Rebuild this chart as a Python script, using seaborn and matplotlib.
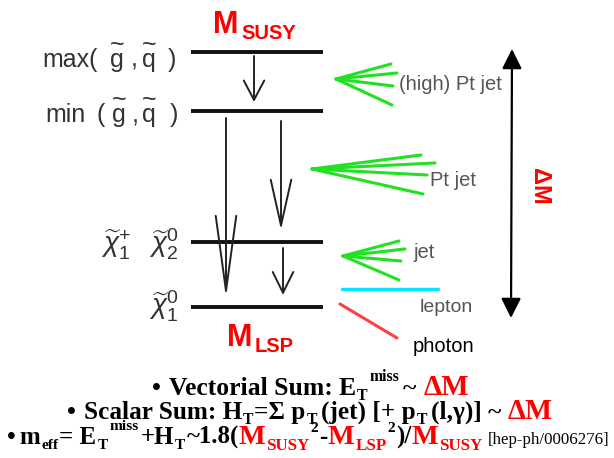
import matplotlib
matplotlib.use('Agg')
import matplotlib.pyplot as plt
import seaborn as sns

sns.set_theme(style='white')
plt.rcParams['mathtext.fontset'] = 'custom'
plt.rcParams['mathtext.rm'] = 'Liberation Sans'
plt.rcParams['mathtext.it'] = 'Liberation Sans:italic'

# mass levels (name, y in px)
level_names = ['max', 'min', 'chi2', 'chi1']
level_y = [52, 111, 242, 307]

# squark/gluino labels, split into glyph groups (tilde goes on g and q)
max_parts = ['max(', 'g', ',', 'q', ')']
max_x = [42, 110, 131, 142, 168]
min_parts = ['min', '(', 'g', ',', 'q', ')']
min_x = [45, 96, 112, 132, 142, 170]
chi_labels = [r'$\widetilde{\chi}^{+}_{1}$', r'$\widetilde{\chi}^{0}_{2}$',
              r'$\widetilde{\chi}^{0}_{1}$']

# decay products shown on the right
jet_labels = ['(high) Pt jet', 'Pt jet', 'jet']
jet_apex = [(336, 79), (312, 169), (343, 256)]
jet_tips = [[(391, 64), (397, 73), (393, 86), (392, 105)],
            [(421, 155), (435, 163), (427, 175), (423, 194)],
            [(399, 241), (405, 249), (401, 261), (399, 280)]]
jet_text_pos = [(399, 84), (430, 181), (413, 252)]

RED = '#FF0000'
GREEN = '#22E022'
GREY = '#555555'
DARK = '#333333'

fig = plt.figure(figsize=(6.14, 4.58), dpi=100)
ax = fig.add_axes([0, 0, 1, 1])
ax.set_xlim(0, 614)
ax.set_ylim(458, 0)
ax.axis('off')
r = fig.canvas.get_renderer()


def draw_run(pieces, x, y, x_end=None):
    # pieces: (text, size, color, weight, dy, family, gap)
    texts = []
    for s, size, color, weight, dy, family, gap in pieces:
        t = ax.text(0, y - dy, s, fontsize=size, color=color, fontweight=weight,
                    family=family, ha='left', va='baseline')
        texts.append((t, size, gap))

    def layout(f):
        cur = 0
        offs = []
        for t, size, gap in texts:
            t.set_fontsize(size * f)
            offs.append(cur)
            cur += t.get_window_extent(r).width + gap * f
        return cur, offs

    total, offs = layout(1.0)
    if x_end is not None:
        total, offs = layout((x_end - x) / total)
        total, offs = layout((x_end - x) / total * (texts[0][0].get_fontsize() / texts[0][1]))
    for (t, _, _), off in zip(texts, offs):
        t.set_x(x + off)


# levels
for y in level_y:
    ax.plot([191, 323], [y, y], color='#111111', lw=2.8, solid_capstyle='butt')

# level labels with tildes over g and q
for parts, xs, base in [(max_parts, max_x, 67), (min_parts, min_x, 122)]:
    for s, x in zip(parts, xs):
        if s in ('g', 'q'):
            ax.text(x, base, '~\n' + s, fontsize=18, color=DARK, ha='left', va='baseline',
                    multialignment='center', linespacing=0.55, family='Liberation Sans')
        else:
            ax.text(x, base, s, fontsize=18, color=DARK, ha='left', va='baseline',
                    family='Liberation Sans')

ax.text(131, 252, chi_labels[0], fontsize=20, color=DARK, ha='right', va='baseline')
ax.text(179, 252, chi_labels[1], fontsize=20, color=DARK, ha='right', va='baseline')
ax.text(179, 315, chi_labels[2], fontsize=20, color=DARK, ha='right', va='baseline')

# M_SUSY / M_LSP
draw_run([('M', 22, RED, 'bold', 0, 'Liberation Sans', 3),
          ('SUSY', 14.5, RED, 'bold', -6, 'Liberation Sans', 0)], 213, 33)
draw_run([('M', 22, RED, 'bold', 0, 'Liberation Sans', 2),
          ('LSP', 14.5, RED, 'bold', -6, 'Liberation Sans', 0)], 227, 346)

# decay arrows
def arrow(x0, y0, x1, y1, hl, hw=0.37, lw=1.4):
    ax.annotate('', xy=(x1, y1), xytext=(x0, y0),
                arrowprops=dict(arrowstyle=f'->,head_length={hl},head_width={hw}',
                                lw=lw, color='#222222', shrinkA=0, shrinkB=0,
                                mutation_scale=20))

arrow(254, 56, 254, 102, 0.7)
arrow(226, 118, 226, 298, 2.7)
arrow(281, 121, 281, 230, 1.65)
arrow(283, 248, 283, 295, 0.75)

# jets
for apex, tips, lab, pos in zip(jet_apex, jet_tips, jet_labels, jet_text_pos):
    for tx, ty in tips:
        ax.plot([apex[0], tx], [apex[1], ty], color=GREEN, lw=2.2, solid_capstyle='round')
    ax.text(pos[0], pos[1], lab, fontsize=14.5, color=GREY, ha='left', va='center',
            family='Liberation Sans')

# lepton / photon
ax.plot([342, 438], [289, 289], color='#00E8FF', lw=2.5)
ax.text(420, 307, 'lepton', fontsize=14, color=GREY, ha='left', va='center',
        family='Liberation Sans')
ax.plot([340, 397], [304, 338], color='#FF4040', lw=2.2)
ax.text(413, 347, 'photon', fontsize=14.5, color='black', ha='left', va='center',
        family='Liberation Sans')

# Delta M double arrow
ax.annotate('', xy=(512, 49), xytext=(511, 318),
            arrowprops=dict(arrowstyle='<|-|>,head_length=0.6,head_width=0.3', lw=1.6,
                            color='black', shrinkA=0, shrinkB=0, mutation_scale=20))
ax.text(540, 186, 'ΔM', rotation=-90, fontsize=17, color=RED, fontweight='bold',
        ha='center', va='center', family='Liberation Sans')

# formulas at bottom
S = 'Liberation Serif'
B, N = 'bold', 'normal'
K = 'black'
F = 18.5   # main size
SM = 11.5  # scripts
line1 = [('•', F, K, B, 0, S, 8),
         ('Vectorial Sum: E', F, K, B, 0, S, 1),
         ('T', SM, K, B, -5, S, 2),
         ('miss', SM, K, B, 14, S, 4),
         ('~', F, K, B, 0, S, 7),
         ('ΔM', 21, RED, B, 0, S, 0)]
line2 = [('•', F, K, B, 0, S, 8),
         ('Scalar Sum: H', F, K, B, 0, S, 1),
         ('T', SM, K, B, -5, S, 1),
         ('=Σ p', F, K, B, 0, S, 1),
         ('T', SM, K, B, -5, S, 4),
         ('(jet) [+ p', F, K, B, 0, S, 1),
         ('T', SM, K, B, -5, S, 4),
         ('(l,γ)] ~', F, K, B, 0, S, 7),
         ('ΔM', 21, RED, B, 0, S, 0)]
line3 = [('•', F, K, B, 0, S, 4),
         ('m', F, K, B, 0, S, 1),
         ('eff', SM, K, B, -5, S, 1),
         ('= E', F, K, B, 0, S, 1),
         ('T', SM, K, B, -5, S, 2),
         ('miss', SM, K, B, 14, S, 2),
         ('+H', F, K, B, 0, S, 1),
         ('T', SM, K, B, -5, S, 1),
         ('~1.8(', F, K, B, 0, S, 0),
         ('M', 21, RED, B, 0, S, 1),
         ('SUSY', 12.5, RED, B, -6, S, 1),
         ('2', SM, K, B, 12, S, 1),
         ('-', F, K, B, 0, S, 0),
         ('M', 21, RED, B, 0, S, 1),
         ('LSP', 12.5, RED, B, -6, S, 1),
         ('2', SM, K, B, 12, S, 1),
         (')/', F, K, B, 0, S, 0),
         ('M', 21, RED, B, 0, S, 1),
         ('SUSY', 12.5, RED, B, -6, S, 6),
         ('[hep-ph/0006276]', 12.5, K, N, 0, S, 0)]
draw_run(line1, 152, 395, 469)
draw_run(line2, 67, 419, 553)
draw_run(line3, 7, 444, 608)

fig.savefig('out.png', dpi=100)
